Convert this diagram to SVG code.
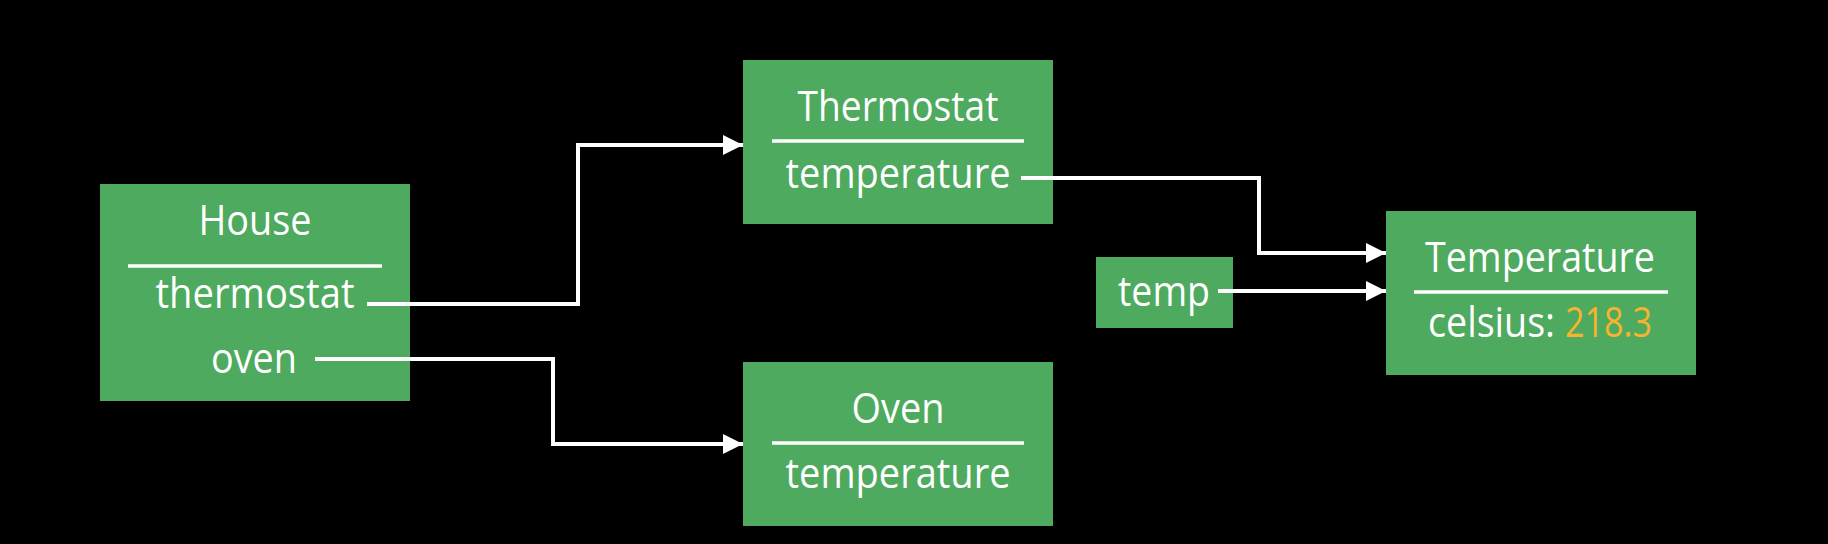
<svg xmlns="http://www.w3.org/2000/svg" width="1828" height="544" viewBox="0 0 1828 544">
<style>
.bg{fill:#000}
.box{fill:#4DAA5E}
.div{stroke:#fff;stroke-width:3.5}
.t{font-family:"Open Sans","Liberation Sans",sans-serif;font-size:42px;fill:#fff;text-anchor:middle}
.tl{font-family:"Open Sans","Liberation Sans",sans-serif;font-size:42px;fill:#fff}
.num{fill:#F7B22E}
.conn{fill:none;stroke:#fff;stroke-width:4}
</style>
<defs>
<marker id="arr" markerUnits="userSpaceOnUse" markerWidth="22" markerHeight="22" refX="20" refY="10" orient="auto">
<path d="M0,0 L20,10 L0,20 Z" fill="#fff"/>
</marker>
</defs>
<rect class="bg" x="0" y="0" width="1828" height="544"/>
<g id="house">
<rect class="box" x="100" y="184" width="310" height="217"/>
<line class="div" x1="128" y1="266" x2="382" y2="266"/>
<text class="t" x="255" y="235" textLength="113" lengthAdjust="spacingAndGlyphs">House</text>
<text class="t" x="255" y="308" textLength="199" lengthAdjust="spacingAndGlyphs">thermostat</text>
<text class="t" x="254" y="373" textLength="86" lengthAdjust="spacingAndGlyphs">oven</text>
</g>
<g id="thermostat">
<rect class="box" x="743" y="60" width="310" height="164"/>
<line class="div" x1="772" y1="141" x2="1024" y2="141"/>
<text class="t" x="898" y="121" textLength="201" lengthAdjust="spacingAndGlyphs">Thermostat</text>
<text class="t" x="898" y="188" textLength="225" lengthAdjust="spacingAndGlyphs">temperature</text>
</g>
<g id="oven">
<rect class="box" x="743" y="362" width="310" height="164"/>
<line class="div" x1="772" y1="443" x2="1024" y2="443"/>
<text class="t" x="898" y="423" textLength="93" lengthAdjust="spacingAndGlyphs">Oven</text>
<text class="t" x="898" y="488" textLength="225" lengthAdjust="spacingAndGlyphs">temperature</text>
</g>
<g id="temp">
<rect class="box" x="1096" y="257" width="137" height="71"/>
<text class="t" x="1164" y="306" textLength="92" lengthAdjust="spacingAndGlyphs">temp</text>
</g>
<g id="temperature">
<rect class="box" x="1386" y="211" width="310" height="164"/>
<line class="div" x1="1414" y1="292" x2="1668" y2="292"/>
<text class="t" x="1540" y="272" textLength="230" lengthAdjust="spacingAndGlyphs">Temperature</text>
<text class="tl" y="337"><tspan x="1428" textLength="127" lengthAdjust="spacingAndGlyphs">celsius:</tspan><tspan class="num" x="1565" textLength="87" lengthAdjust="spacingAndGlyphs">218.3</tspan></text>
</g>
<g id="connectors">
<polyline class="conn" points="367,304 578,304 578,145 743,145" marker-end="url(#arr)"/>
<polyline class="conn" points="315,359 553,359 553,444 743,444" marker-end="url(#arr)"/>
<polyline class="conn" points="1021,178 1259,178 1259,253 1386,253" marker-end="url(#arr)"/>
<polyline class="conn" points="1218,291 1386,291" marker-end="url(#arr)"/>
</g>
</svg>
